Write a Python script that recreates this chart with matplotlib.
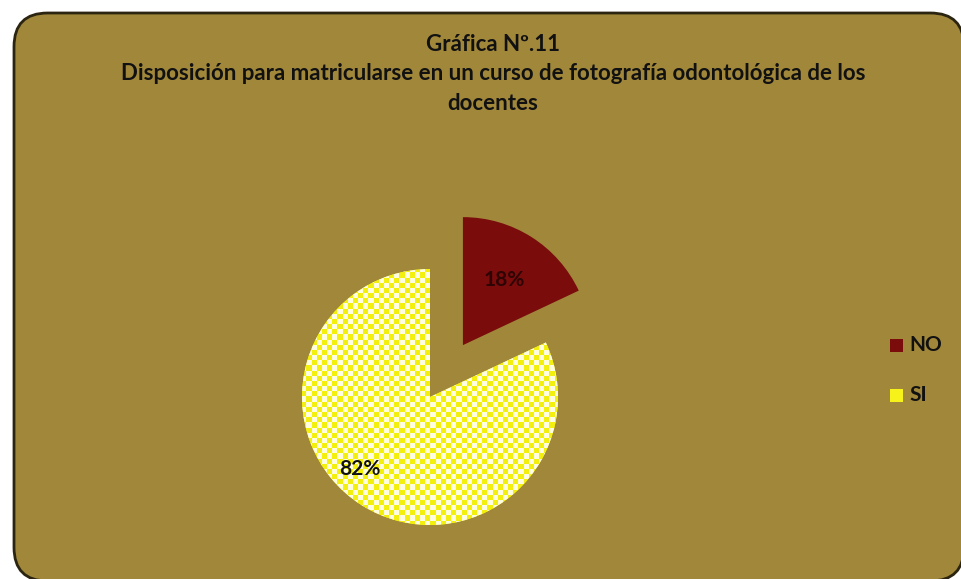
import matplotlib
matplotlib.use("Agg")
import matplotlib.pyplot as plt
import numpy as np
from matplotlib.patches import FancyBboxPatch, Rectangle
from matplotlib.colors import ListedColormap

categories = ["NO", "SI"]
values = [18, 82]
pct_labels = ["18%", "82%"]
colors = ["#7a0c0c", "#f6f21a"]

title = "Gráfica Nº.11\nDisposición para matricularse en un curso de fotografía odontológica de los\ndocentes"

W, H = 962, 579
fig = plt.figure(figsize=(W / 100, H / 100), dpi=100)
fig.patch.set_facecolor("white")

bg = "#a1873a"
box = FancyBboxPatch((14 / W, -2 / H), (962 - 12) / W, (579 - 11) / H,
                     boxstyle="round,pad=0,rounding_size=0.035",
                     transform=fig.transFigure, facecolor=bg, edgecolor="#2a2410",
                     linewidth=2.0, mutation_aspect=W / H, zorder=-5)
fig.patches.append(box)

fig.text(493 / W, 1 - 74 / H, title, ha="center", va="center", fontsize=16,
         fontweight="bold", family="Lato", color="#111111", linespacing=1.5)

# pie axes: center (430,397), radius 128 px
r = 128
cx, cy = 430, 397
ax = fig.add_axes([(cx - r * 1.6) / W, 1 - (cy + r * 1.6) / H, r * 3.2 / W, r * 3.2 / H])
ax.set_zorder(3)
ax.patch.set_alpha(0)
ax.axis("off")

wedges, texts = ax.pie(values, colors=colors, startangle=90, counterclock=False,
                       explode=[0.48, 0], radius=1.0, labels=None)
for w in wedges:
    w.set_edgecolor("none")

# checkered texture for SI
n = 52
yy, xx = np.mgrid[0:n, 0:n]
chk = ((xx + yy) % 2).astype(float)
cmap = ListedColormap(["#f4f00e", "#fffde0"])
im = ax.imshow(chk, cmap=cmap, extent=[-1.05, 1.05, -1.05, 1.05], interpolation="nearest", zorder=2)
im.set_clip_path(wedges[1])
ax.set_xlim(-1.6, 1.6)
ax.set_ylim(-1.6, 1.6)
ax.set_aspect("equal")

# percentage labels
ang0 = np.deg2rad(90 - 0.18 * 360 / 2)
ax.text(0.48 * np.cos(ang0) + 0.6 * np.cos(ang0), 0.48 * np.sin(ang0) + 0.6 * np.sin(ang0),
        pct_labels[0], ha="center", va="center", fontsize=15, fontweight="bold",
        family="Lato", color="#2e0404", zorder=3)
ax.text(-0.55, -0.56, pct_labels[1], ha="center", va="center", fontsize=15,
        fontweight="bold", family="Lato", color="#111111", zorder=3)

# legend
ys = [345, 395]
for cat, col, y in zip(categories, colors, ys):
    fig.patches.append(Rectangle((890 / W, 1 - (y + 7) / H), 13 / W, 13 / H,
                                 transform=fig.transFigure, facecolor=col, edgecolor="none"))
    fig.text(909 / W, 1 - y / H, cat, ha="left", va="center", fontsize=15,
             fontweight="bold", family="Lato", color="#111111")

fig.savefig("out.png", dpi=100, facecolor="white")
